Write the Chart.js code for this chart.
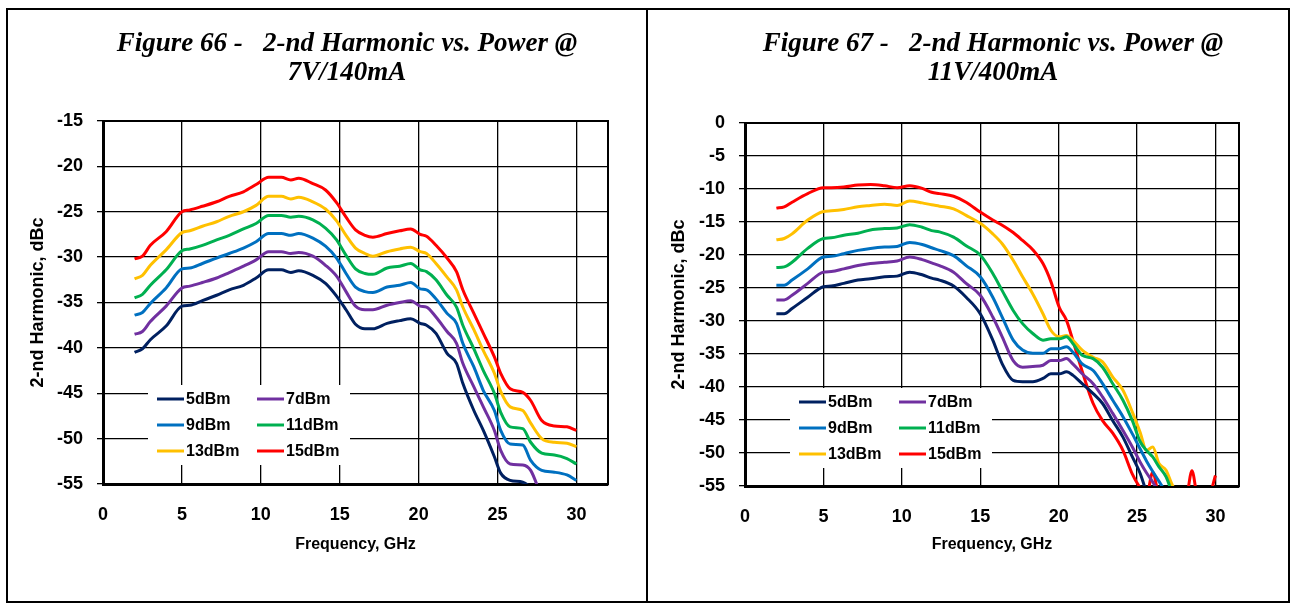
<!DOCTYPE html>
<html>
<head>
<meta charset="utf-8">
<script src="https://cdn.jsdelivr.net/npm/chart.js@4.4.1/dist/chart.umd.min.js"></script>
<style>
  html, body { margin: 0; padding: 0; background: #fff; }
  #page { position: relative; width: 1291px; height: 604px; overflow: hidden; background: #fff; }
  .frame { position: absolute; left: 6px; top: 8px; width: 1280px; height: 591px; border: 2px solid #000; }
  .divider { position: absolute; left: 646px; top: 8px; width: 2px; height: 595px; background: #000; }
  canvas { position: absolute; }
  #chartL { left: 8px; top: 10px; }
  #chartR { left: 649px; top: 10px; }
</style>
</head>
<body>
<div id="page">
  <div class="frame"></div>
  <div class="divider"></div>
  <canvas id="chartL" width="638" height="592"></canvas>
  <canvas id="chartR" width="639" height="592"></canvas>
</div>
<script>
// ---- данные: Figure 66 (7V/140mA) ----
const freqL = [2, 2.5, 3, 4, 5, 5.5, 6.3, 7.2, 8, 8.9, 9.7, 10.5, 11.3, 11.9, 12.4, 13.3, 14.1,
  14.8, 15.4, 16, 16.6, 17.1, 18, 18.8, 19.5, 20.1, 20.5, 21.1, 21.8, 22.4, 22.8, 23.5, 24.1,
  24.8, 25.2, 25.8, 26.6, 27.1, 27.8, 28.6, 29.4, 30];
const h5L = [-40.5, -40.1, -39.1, -37.6, -35.4, -35.3, -34.8, -34.2, -33.6, -33.1, -32.3, -31.4, -31.4, -31.7, -31.5, -32.0, -32.9,
  -34.3, -35.8, -37.4, -37.9, -37.9, -37.3, -37.0, -36.8, -37.3, -37.5, -38.4, -40.6, -41.7, -43.9, -46.9, -49.1,
  -52.0, -53.8, -54.6, -54.8, -55.4, -57, null, null, null];
const h7L = [-38.5, -38.2, -37.1, -35.4, -33.4, -33.2, -32.8, -32.3, -31.7, -31.0, -30.3, -29.4, -29.4, -29.6, -29.5, -29.9, -30.9,
  -32.1, -33.8, -35.4, -35.8, -35.8, -35.3, -35.0, -34.8, -35.4, -35.5, -36.6, -38.2, -39.5, -41.7, -44.3, -46.5,
  -49.1, -51.3, -52.8, -52.9, -53.5, -56.5, null, null, null];
const h9L = [-36.4, -36.1, -35.1, -33.4, -31.3, -31.2, -30.7, -30.1, -29.6, -29.0, -28.3, -27.4, -27.4, -27.6, -27.4, -27.9, -28.8,
  -30.1, -31.8, -33.3, -33.8, -33.9, -33.3, -33.1, -32.8, -33.5, -33.6, -34.6, -36.2, -37.3, -39.5, -42.1, -44.7,
  -46.9, -49.1, -50.6, -50.7, -52.4, -53.5, -53.7, -54.0, -54.6];
const h11L = [-34.5, -34.1, -33.1, -31.4, -29.3, -29.1, -28.7, -28.1, -27.6, -26.9, -26.3, -25.4, -25.4, -25.6, -25.5, -25.9, -26.8,
  -28.1, -29.8, -31.3, -31.8, -31.9, -31.2, -31.0, -30.7, -31.4, -31.6, -32.5, -34.2, -35.5, -37.5, -40.1, -42.5,
  -45.0, -47.1, -48.7, -48.9, -50.4, -51.6, -51.8, -52.2, -52.8];
const h13L = [-32.4, -32.0, -30.9, -29.2, -27.3, -27.1, -26.6, -26.1, -25.5, -25.0, -24.3, -23.3, -23.3, -23.6, -23.4, -23.9, -24.7,
  -26.0, -27.6, -29.0, -29.6, -29.9, -29.4, -29.1, -28.9, -29.4, -29.6, -30.7, -32.2, -33.6, -35.5, -38.0, -40.3,
  -42.8, -44.8, -46.5, -46.9, -48.3, -50.0, -50.4, -50.5, -50.9];
const h15L = [-30.2, -29.9, -28.7, -27.2, -25.0, -24.8, -24.4, -23.9, -23.3, -22.8, -22.0, -21.2, -21.2, -21.5, -21.3, -21.9, -22.6,
  -24.0, -25.6, -27.0, -27.6, -27.8, -27.4, -27.1, -26.9, -27.5, -27.7, -28.7, -30.1, -31.6, -33.6, -36.2, -38.4,
  -41.0, -42.8, -44.5, -44.9, -45.8, -48.0, -48.6, -48.7, -49.1];

// ---- данные: Figure 67 (11V/400mA) ----
const freqR = [2, 2.5, 3, 4, 5, 5.5, 6.3, 7.2, 8, 8.9, 9.7, 10.5, 11.3, 11.9, 12.4, 13.3, 14.1,
  15, 15.8, 16.4, 17.1, 17.7, 18.35, 19, 19.5, 20.05, 20.5, 20.9, 21.5, 22.2, 22.8, 23.45, 24.1,
  24.7, 25.2, 25.6, 26, 26.4, 26.85, 27.2, 27.6, 28.1, 28.5, 28.9, 29.5, 30];
const h5R = [-28.9, -28.9, -28.1, -26.4, -24.8, -24.7, -24.3, -23.8, -23.6, -23.3, -23.2, -22.6, -23.0, -23.5, -23.8, -24.7, -26.4,
  -28.9, -32.9, -36.5, -39.0, -39.2, -39.2, -38.7, -38.0, -38.0, -37.7, -38.2, -39.5, -41.0, -42.5, -45.1, -47.6,
  -50.6, -53.1, -56, null, null, null, null, null, null, null, null, null, null];
const h7R = [-26.8, -26.8, -26.1, -24.3, -22.6, -22.5, -22.1, -21.6, -21.3, -21.1, -20.9, -20.3, -20.7, -21.2, -21.6, -22.6, -24.3,
  -26.1, -29.4, -32.4, -36.0, -37.0, -36.9, -36.7, -36.0, -36.0, -35.7, -36.5, -38.0, -39.5, -41.5, -44.0, -46.6,
  -49.1, -51.4, -53.0, -54.4, -56, null, null, null, null, null, null, null, null];
const h9R = [-24.6, -24.6, -23.8, -22.1, -20.3, -20.2, -19.8, -19.3, -19.0, -18.8, -18.7, -18.1, -18.4, -18.9, -19.3, -20.1, -21.6,
  -23.3, -26.4, -29.4, -32.9, -34.4, -34.9, -34.9, -34.2, -34.2, -33.9, -34.7, -36.5, -37.5, -39.5, -42.0, -44.5,
  -47.1, -49.4, -51.2, -52.8, -54.3, -56, null, null, null, null, null, null, null];
const h11R = [-21.9, -21.8, -21.1, -19.0, -17.5, -17.4, -17.0, -16.7, -16.2, -16.0, -15.9, -15.4, -15.8, -16.3, -16.5, -17.3, -18.6,
  -20.0, -22.8, -25.4, -28.4, -30.4, -31.9, -32.9, -32.7, -32.7, -32.4, -33.4, -35.2, -35.7, -37.0, -39.5, -42.0,
  -45.1, -48.3, -49.6, -50.6, -52.1, -53.6, -55.8, null, null, null, null, null, null];
const h13R = [-17.7, -17.5, -16.8, -14.7, -13.4, -13.3, -13.1, -12.7, -12.5, -12.3, -12.5, -11.8, -12.1, -12.4, -12.6, -13.0, -14.0,
  -15.2, -16.8, -18.3, -20.8, -23.3, -25.9, -28.9, -31.4, -32.4, -32.2, -32.9, -34.4, -35.5, -36.2, -38.5, -40.5,
  -43.8, -46.9, -49.6, -49.1, -51.6, -52.6, -54.6, -56.5, null, null, null, null, null];
const h15R = [-12.9, -12.7, -12.0, -10.7, -9.8, -9.8, -9.7, -9.4, -9.3, -9.5, -9.8, -9.5, -9.9, -10.5, -10.7, -11.1, -12.0,
  -13.5, -14.7, -15.5, -16.6, -17.8, -19.2, -21.3, -24.0, -28.0, -29.9, -32.9, -37.6, -42.5, -45.1, -47.0, -49.6,
  -53.2, -55.3, -56.5, -52.9, -56.5, -57, -57, -57, -57, -52.7, -57, -57, -53.4];

const seriesNames = ['5dBm', '7dBm', '9dBm', '11dBm', '13dBm', '15dBm'];
const seriesColors = ['#002060', '#7030A0', '#0070C0', '#00B050', '#FFC000', '#FF0000'];
const xTicks = [0, 5, 10, 15, 20, 25, 30];

const FONT = '"Liberation Sans", Arial, sans-serif';

// Рамка области построения (верх и право)
const plotFrame = {
  id: 'plotFrame',
  beforeDatasetsDraw(chart) {
    const { ctx, chartArea: a } = chart;
    ctx.save();
    ctx.strokeStyle = '#000';
    ctx.lineWidth = 2;
    ctx.strokeRect(a.left, a.top, a.width, a.height);
    ctx.restore();
  }
};

// Легенда внутри графика на белом фоне
const boxLegend = {
  id: 'boxLegend',
  afterDatasetsDraw(chart, args, o) {
    const { ctx, chartArea: a } = chart;
    const x0 = a.left + o.dx, y0 = a.top + o.dy;
    ctx.save();
    ctx.fillStyle = '#fff';
    ctx.fillRect(x0, y0, o.w, o.h);
    ctx.font = 'bold 16px ' + FONT;
    ctx.textBaseline = 'middle';
    chart.data.datasets.forEach((ds, i) => {
      const lx = x0 + 9 + (i % 2) * 100;
      const ly = y0 + 14 + Math.floor(i / 2) * 26;
      ctx.strokeStyle = ds.borderColor;
      ctx.lineWidth = 3;
      ctx.beginPath();
      ctx.moveTo(lx, ly);
      ctx.lineTo(lx + 27, ly);
      ctx.stroke();
      ctx.fillStyle = '#000';
      ctx.fillText(ds.label, lx + 29, ly + 1);
    });
    ctx.restore();
  }
};

// Заголовок рисунка (две строки, курсив)
const figTitle = {
  id: 'figTitle',
  afterDraw(chart, args, o) {
    const ctx = chart.ctx;
    ctx.save();
    ctx.font = 'italic bold 27px "Liberation Serif", "Times New Roman", serif';
    ctx.textAlign = 'center';
    ctx.textBaseline = 'middle';
    ctx.fillStyle = '#000';
    o.lines.forEach((t, i) => ctx.fillText(t, o.cx, o.cy + i * 29));
    ctx.restore();
  }
};

function makeChart(id, freq, series, yMin, yMax, xMax, layout, title) {
  const datasets = series.map((vals, i) => ({
    label: seriesNames[i],
    data: freq.map((f, j) => ({ x: f, y: vals[j] })),
    borderColor: seriesColors[i],
    backgroundColor: seriesColors[i],
    borderWidth: 3,
    pointRadius: 0,
    cubicInterpolationMode: 'monotone',
    spanGaps: false
  }));

  return new Chart(document.getElementById(id), {
    type: 'line',
    data: { datasets },
    plugins: [plotFrame, boxLegend, figTitle],
    options: {
      responsive: false,
      animation: false,
      layout: { padding: { left: 0, right: layout.right, top: layout.top, bottom: 0 } },
      plugins: {
        legend: { display: false },
        tooltip: { enabled: false },
        boxLegend: { dx: 45, dy: layout.legendDy, w: 202, h: 80 },
        figTitle: { lines: title, cx: layout.titleX, cy: 34 }
      },
      scales: {
        x: {
          type: 'linear',
          min: 0,
          max: xMax,
          afterFit: s => { s.height = layout.xHeight; },
          afterBuildTicks: s => { s.ticks = xTicks.map(v => ({ value: v })); },
          grid: { color: '#000', lineWidth: 1.3, drawTicks: false },
          border: { display: true, color: '#000', width: 3 },
          ticks: { color: '#000', padding: 20, font: { family: FONT, size: 18, weight: 'bold' } },
          title: {
            display: true, text: 'Frequency, GHz', color: '#000',
            font: { family: FONT, size: 16, weight: 'bold' },
            padding: { top: 0, bottom: 48 }
          }
        },
        y: {
          min: yMin,
          max: yMax,
          afterFit: s => { s.width = layout.yWidth; },
          ticks: { stepSize: 5, color: '#000', padding: 14, font: { family: FONT, size: 18, weight: 'bold' } },
          grid: { color: '#000', lineWidth: 1.3, tickLength: 6 },
          border: { display: true, color: '#000', width: 3 },
          title: {
            display: true, text: '2-nd Harmonic, dBc', color: '#000',
            font: { family: FONT, size: 18, weight: 'bold' },
            padding: { top: 19, bottom: 0 }
          }
        }
      }
    }
  });
}

makeChart('chartL', freqL, [h5L, h7L, h9L, h11L, h13L, h15L], -55, -15, 32,
  { top: 111, right: 38, xHeight: 118, yWidth: 95, legendDy: 264, titleX: 339 },
  ['Figure 66 -   2-nd Harmonic vs. Power @', '7V/140mA']);

makeChart('chartR', freqR, [h5R, h7R, h9R, h11R, h13R, h15R], -55, 0, 31.5,
  { top: 113, right: 49, xHeight: 116, yWidth: 96, legendDy: 265, titleX: 344 },
  ['Figure 67 -   2-nd Harmonic vs. Power @', '11V/400mA']);
</script>
</body>
</html>
